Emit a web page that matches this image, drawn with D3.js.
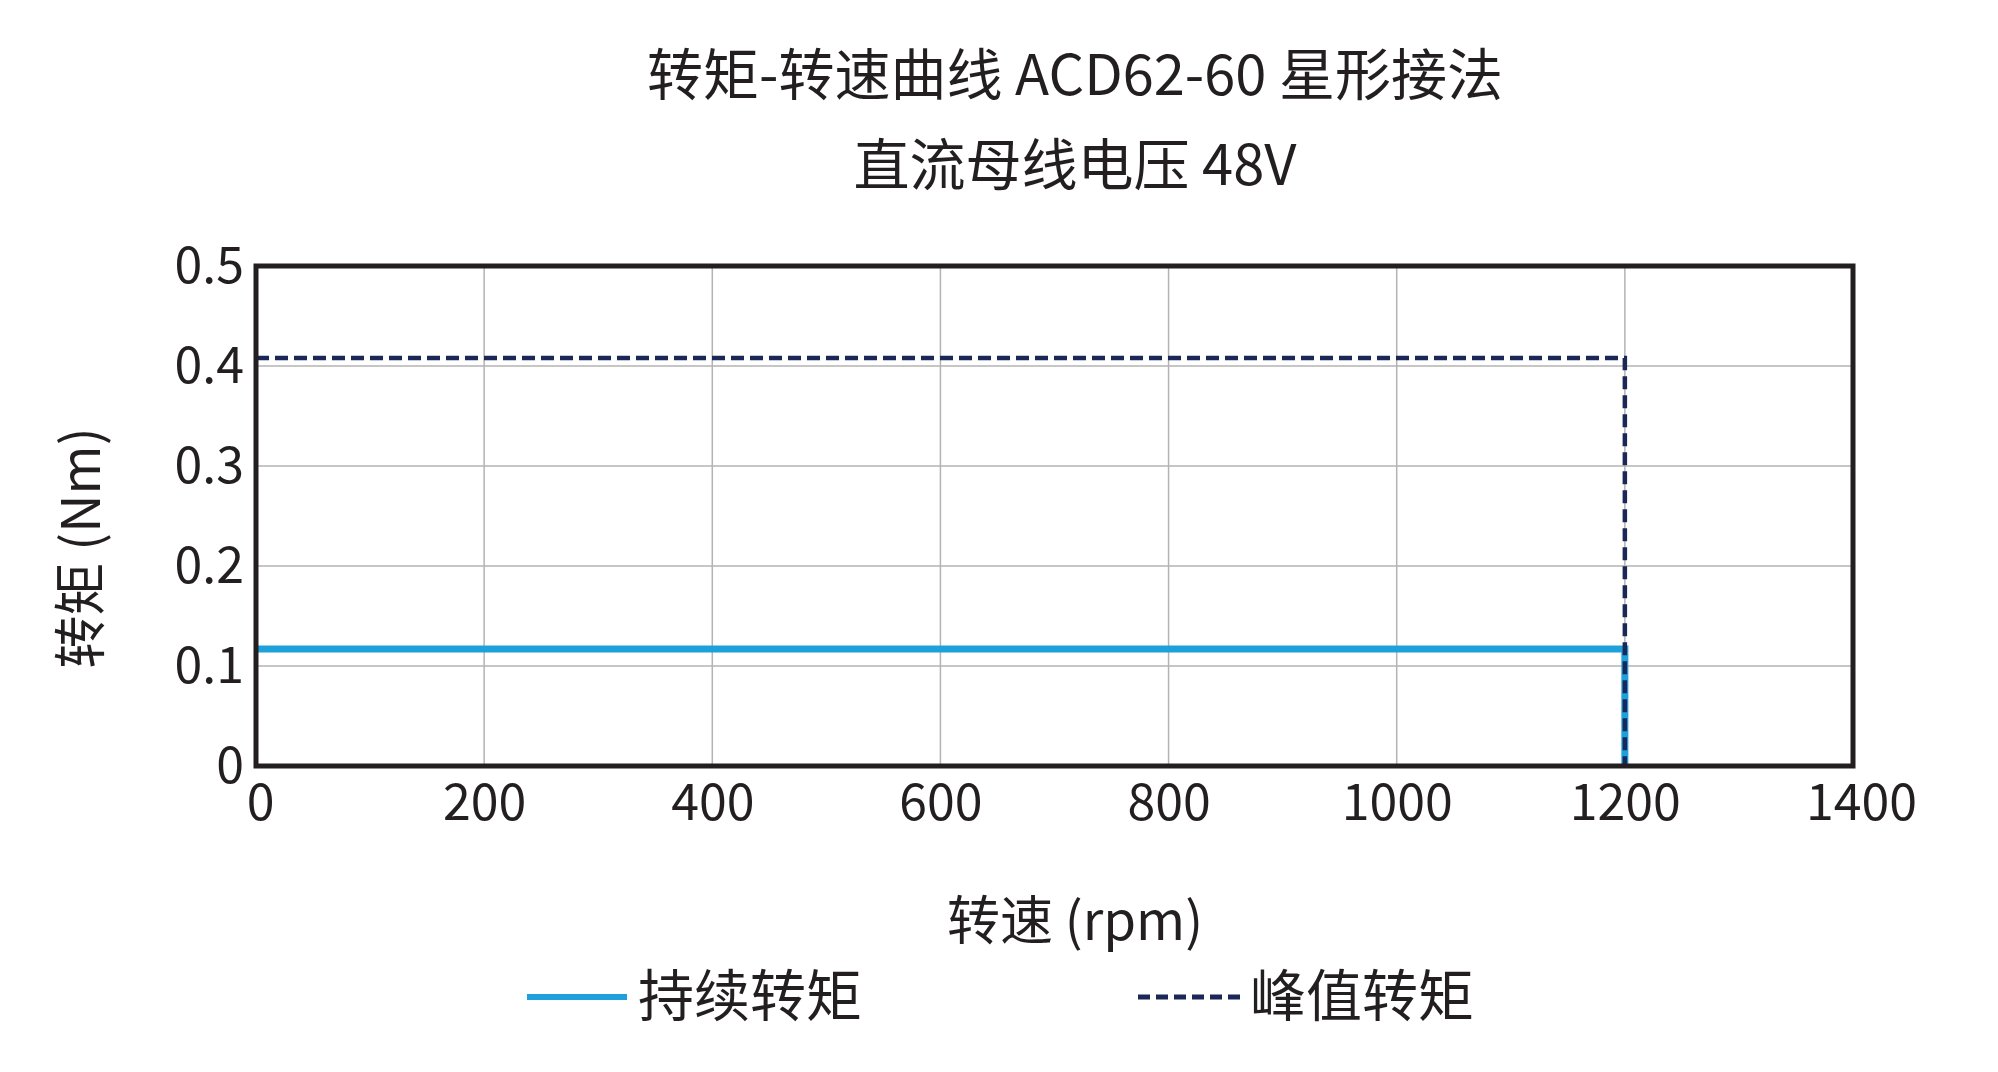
<!DOCTYPE html><html><head><meta charset="utf-8"><script src="https://cdn.jsdelivr.net/npm/d3@7"></script>
<style>body{margin:0;background:#fff}text{font-family:"Noto Sans CJK SC","Noto Sans",sans-serif;fill:#231f20}</style></head><body>
<svg id="c" width="1998" height="1072"></svg>
<script>
const xTicks=[0,200,400,600,800,1000,1200,1400];
const yTicks=[0,0.1,0.2,0.3,0.4,0.5];
const yTickLabels=["0","0.1","0.2","0.3","0.4","0.5"];
const contSpeed=[0,1200,1200];
const contTorque=[0.117,0.117,0];
const peakSpeed=[0,1200,1200];
const peakTorque=[0.408,0.408,0];
const seriesNames=["持续转矩","峰值转矩"];
const svg=d3.select("#c");
const L=256,R=1853,T=266,B=766;
const x=d3.scaleLinear().domain([0,1400]).range([L,R]);
const y=d3.scaleLinear().domain([0,0.5]).range([B,T]);
const g=svg.append("g");
g.selectAll(".vx").data(xTicks).join("line").attr("x1",d=>x(d)).attr("x2",d=>x(d)).attr("y1",T).attr("y2",B).attr("stroke","#b3b3b3").attr("stroke-width",1.5);
g.selectAll(".hy").data(yTicks).join("line").attr("y1",d=>y(d)).attr("y2",d=>y(d)).attr("x1",L).attr("x2",R).attr("stroke","#b3b3b3").attr("stroke-width",1.5);
const xa=svg.append("g").attr("transform",`translate(0,${B})`).call(d3.axisBottom(x).tickValues(xTicks).tickFormat(d3.format("d")).tickSize(0).tickPadding(16));
xa.select(".domain").remove();
xa.selectAll("text").attr("font-size",50).attr("dy","0.75em").style("fill","#231f20").attr("font-family","Noto Sans CJK SC");
xa.selectAll("text").attr("dx",(d,i)=>i==0?4:(i==7?8:0));
const ya=svg.append("g").attr("transform",`translate(${L},0)`).call(d3.axisLeft(y).tickValues(yTicks).tickFormat((d,i)=>yTickLabels[i]).tickSize(0).tickPadding(12));
ya.select(".domain").remove();
ya.selectAll("text").attr("font-size",50).style("fill","#231f20").attr("font-family","Noto Sans CJK SC");
const line=d3.line().x(d=>x(d[0])).y(d=>y(d[1]));
svg.append("path").attr("d",line(contSpeed.map((s,i)=>[s,contTorque[i]]))).attr("fill","none").attr("stroke","#1ea0da").attr("stroke-width",7);
svg.append("path").attr("d",line(peakSpeed.map((s,i)=>[s,peakTorque[i]]))).attr("fill","none").attr("stroke","#1b2757").attr("stroke-width",4.5).attr("stroke-dasharray","13,6");
svg.append("rect").attr("x",L).attr("y",T).attr("width",R-L).attr("height",B-T).attr("fill","none").attr("stroke","#231f20").attr("stroke-width",5);
svg.append("text").attr("x",1075).attr("y",95).attr("text-anchor","middle").attr("font-size",56).text("转矩-转速曲线 ACD62-60 星形接法");
svg.append("text").attr("x",1075).attr("y",185).attr("text-anchor","middle").attr("font-size",56).text("直流母线电压 48V");
svg.append("text").attr("x",1075).attr("y",940).attr("text-anchor","middle").attr("font-size",53).text("转速 (rpm)");
svg.append("text").attr("transform","translate(100,548) rotate(-90)").attr("text-anchor","middle").attr("font-size",53).text("转矩 (Nm)");
svg.append("line").attr("x1",527).attr("x2",627).attr("y1",997).attr("y2",997).attr("stroke","#1ea0da").attr("stroke-width",6);
svg.append("text").attr("x",638).attr("y",1016).attr("font-size",56).text(seriesNames[0]);
svg.append("line").attr("x1",1138).attr("x2",1240).attr("y1",997).attr("y2",997).attr("stroke","#1b2757").attr("stroke-width",5).attr("stroke-dasharray","12,6");
svg.append("text").attr("x",1250).attr("y",1016).attr("font-size",56).text(seriesNames[1]);
</script></body></html>
